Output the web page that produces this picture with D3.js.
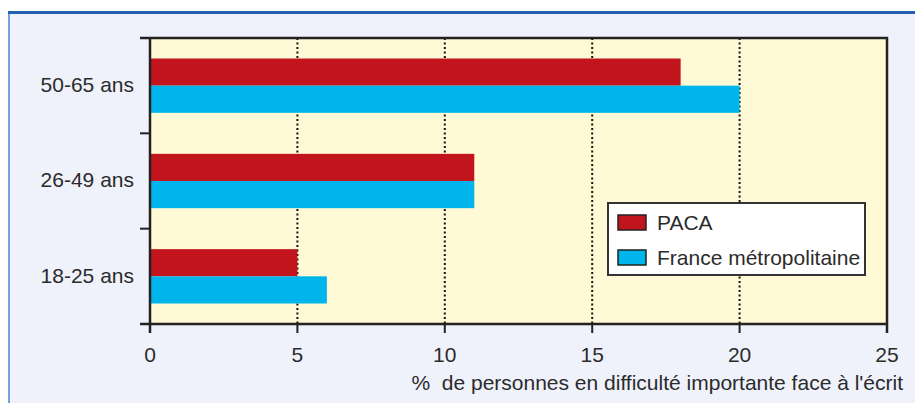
<!DOCTYPE html>
<html>
<head>
<meta charset="utf-8">
<script src="https://cdn.jsdelivr.net/npm/d3@7"></script>
<style>
	body { margin: 0; background: #ffffff; }
	svg text { font-family: "Liberation Sans", Arial, sans-serif; fill: #2b2b2b; }
</style>
</head>
<body>
<div id="chart"></div>
<script>
var categories = ["50-65 ans", "26-49 ans", "18-25 ans"],
	series = ["PACA", "France métropolitaine"],
	pacaValues = [18, 11, 5],
	franceValues = [20, 11, 6],
	xTicks = [0, 5, 10, 15, 20, 25],
	gridTicks = [5, 10, 15, 20];

var seriesColors = ["#c2141d", "#00b5ec"];

var width = 915,
	height = 403,
	plot = {left: 150, right: 887, top: 38, bottom: 324},
	fontSize = 21;

var svgContainer = d3.select("#chart")
	.append("svg")
	.attr("width", width)
	.attr("height", height);

// outer frame
svgContainer.append("rect")
	.attr("x", 9)
	.attr("y", 12)
	.attr("width", width)
	.attr("height", height)
	.attr("fill", "#eff2fb");

svgContainer.append("line")
	.attr("x1", 9).attr("y1", 12)
	.attr("x2", 9).attr("y2", height)
	.attr("stroke", "#4f80cc")
	.attr("stroke-width", 1.5);

svgContainer.append("line")
	.attr("x1", 8).attr("y1", 12.5)
	.attr("x2", width).attr("y2", 12.5)
	.attr("stroke", "#2360b0")
	.attr("stroke-width", 3);

var xScale = d3.scaleLinear()
	.domain([0, 25])
	.range([plot.left, plot.right]);

var yScale = d3.scaleBand()
	.domain(categories)
	.range([plot.top, plot.bottom])
	.paddingInner(0.43)
	.paddingOuter(0.215);

var subScale = d3.scaleBand()
	.domain(series)
	.range([0, yScale.bandwidth()]);

// plot background
svgContainer.append("rect")
	.attr("x", plot.left)
	.attr("y", plot.top)
	.attr("width", plot.right - plot.left)
	.attr("height", plot.bottom - plot.top)
	.attr("fill", "#fff9d6");

// dotted grid
svgContainer.selectAll(".grid")
	.data(gridTicks)
	.enter()
	.append("line")
	.attr("class", "grid")
	.attr("x1", d => xScale(d))
	.attr("x2", d => xScale(d))
	.attr("y1", plot.top)
	.attr("y2", plot.bottom)
	.attr("stroke", "#111")
	.attr("stroke-width", 2)
	.attr("stroke-dasharray", "2,2.5");

// bars
var rows = categories.map(function(c, i) {
	return {category: c, values: [pacaValues[i], franceValues[i]]};
});

var groups = svgContainer.selectAll(".group")
	.data(rows)
	.enter()
	.append("g")
	.attr("class", "group")
	.attr("transform", d => "translate(0," + yScale(d.category) + ")");

groups.selectAll("rect")
	.data(d => d.values.map((v, j) => ({series: series[j], value: v, color: seriesColors[j]})))
	.enter()
	.append("rect")
	.attr("x", xScale(0))
	.attr("y", d => subScale(d.series))
	.attr("width", d => xScale(d.value) - xScale(0))
	.attr("height", subScale.bandwidth())
	.attr("fill", d => d.color);

// y axis: ticks at band boundaries
var step = yScale.step();
var boundaries = [0, 1, 2, 3].map(i => plot.top + i * step);

svgContainer.selectAll(".ytick")
	.data(boundaries)
	.enter()
	.append("line")
	.attr("x1", plot.left - 10)
	.attr("x2", plot.left)
	.attr("y1", d => d)
	.attr("y2", d => d)
	.attr("stroke", "#222")
	.attr("stroke-width", 2);

svgContainer.selectAll(".ylabel")
	.data(categories)
	.enter()
	.append("text")
	.attr("x", 134)
	.attr("y", d => yScale(d) + yScale.bandwidth() / 2)
	.attr("dy", "0.3em")
	.attr("text-anchor", "end")
	.style("font-size", fontSize + "px")
	.text(d => d);

// x axis ticks
svgContainer.selectAll(".xtick")
	.data(xTicks)
	.enter()
	.append("line")
	.attr("x1", d => xScale(d))
	.attr("x2", d => xScale(d))
	.attr("y1", plot.bottom)
	.attr("y2", plot.bottom + 9)
	.attr("stroke", "#222")
	.attr("stroke-width", 2);

svgContainer.selectAll(".xlabel")
	.data(xTicks)
	.enter()
	.append("text")
	.attr("x", d => xScale(d))
	.attr("y", 362)
	.attr("text-anchor", "middle")
	.style("font-size", fontSize + "px")
	.text(d => d);

// frame of plot
svgContainer.append("path")
	.attr("d", "M" + (plot.left - 10) + "," + plot.top + "H" + plot.right + "V" + (plot.bottom + 9))
	.attr("fill", "none")
	.attr("stroke", "#222")
	.attr("stroke-width", 2.5);

svgContainer.append("line")
	.attr("x1", plot.left).attr("y1", plot.top)
	.attr("x2", plot.left).attr("y2", plot.bottom + 9)
	.attr("stroke", "#222")
	.attr("stroke-width", 2.5);

svgContainer.append("line")
	.attr("x1", plot.left - 10).attr("y1", plot.bottom)
	.attr("x2", plot.right).attr("y2", plot.bottom)
	.attr("stroke", "#222")
	.attr("stroke-width", 2.5);

// axis title
svgContainer.append("text")
	.attr("x", 903)
	.attr("y", 390)
	.attr("text-anchor", "end")
	.style("font-size", fontSize + "px")
	.style("white-space", "pre")
	.text("%  de personnes en difficulté importante face à l'écrit");

// legend
var legend = svgContainer.append("g")
	.attr("transform", "translate(608,203)");

legend.append("rect")
	.attr("width", 257)
	.attr("height", 72)
	.attr("fill", "#ffffff")
	.attr("stroke", "#333")
	.attr("stroke-width", 2);

var legendItems = legend.selectAll(".item")
	.data(series)
	.enter()
	.append("g")
	.attr("transform", (d, i) => "translate(10," + (12 + i * 35) + ")");

legendItems.append("rect")
	.attr("width", 28)
	.attr("height", 15)
	.attr("fill", (d, i) => seriesColors[i])
	.attr("stroke", "#222")
	.attr("stroke-width", 1.5);

legendItems.append("text")
	.attr("x", 39)
	.attr("y", 15)
	.style("font-size", fontSize + "px")
	.text(d => d);
</script>
</body>
</html>
